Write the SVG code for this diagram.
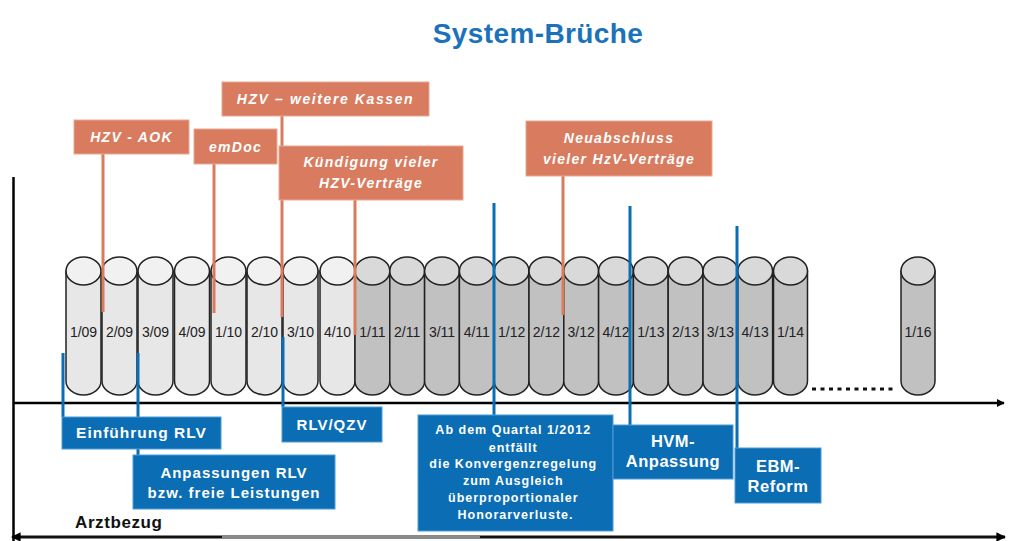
<svg xmlns="http://www.w3.org/2000/svg" width="1009" height="541" viewBox="0 0 1009 541">
<defs>
<marker id="ah" viewBox="0 0 10 10" refX="9" refY="5" markerWidth="3.2" markerHeight="3.2" orient="auto-start-reverse" markerUnits="strokeWidth"><path d="M0,0 L10,5 L0,10 Z" fill="#000"/></marker>
<style>
.cl path{fill:#e7e7e7;stroke:#222;stroke-width:1.5}
.cl ellipse{fill:#f1f1f1;stroke:#222;stroke-width:1.5}
.cg path{fill:#c1c1c1;stroke:#222;stroke-width:1.5}
.cg ellipse{fill:#d9d9d9;stroke:#222;stroke-width:1.5}
.cyl text{font-family:"Liberation Sans",Arial,sans-serif;font-size:14px;fill:#222;text-anchor:middle}
.ob{fill:#d97b5e;stroke:#eaa893;stroke-width:1}
.bb{fill:#0b6db4;stroke:#4f9bd6;stroke-width:1}
.ot{font-family:"Liberation Sans",Arial,sans-serif;font-size:14px;font-weight:bold;font-style:italic;fill:#fff;text-anchor:middle;letter-spacing:1.3px}
.bt{font-family:"Liberation Sans",Arial,sans-serif;font-weight:bold;fill:#fff;text-anchor:middle}
.ol{stroke:#d97b5e;stroke-width:3;fill:none}
.bl{stroke:#0b6db4;stroke-width:3;fill:none}
.ax{stroke:#000;stroke-width:2.5;fill:none}
</style>
</defs>
<rect width="1009" height="541" fill="#fff"/>
<text x="538" y="43" font-family="'Liberation Sans',Arial,sans-serif" font-size="28" font-weight="bold" fill="#1b72bb" text-anchor="middle" letter-spacing="0.4">System-Brüche</text>

<g id="axes">
<line class="ax" x1="13.5" y1="177" x2="13.5" y2="541"/>
<line class="ax" x1="13" y1="403" x2="1004" y2="403" marker-end="url(#ah)"/>
<line x1="12" y1="537" x2="1005" y2="537" stroke="#111" stroke-width="3" marker-start="url(#ah)" marker-end="url(#ah)"/>
<line x1="222" y1="537" x2="480" y2="537" stroke="#8a8a8a" stroke-width="3"/>
<line x1="812" y1="389" x2="893" y2="389" stroke="#111" stroke-width="3" stroke-dasharray="4 4.5"/>
</g>

<g id="cyl-1-09" class="cyl cl"><path d="M66 271V381A17.5 14 0 0 0 101 381V271Z"/><ellipse cx="83.5" cy="271" rx="17.5" ry="14"/><text x="83.5" y="337">1/09</text></g>
<g id="cyl-2-09" class="cyl cl"><path d="M102 271V381A17.5 14 0 0 0 137 381V271Z"/><ellipse cx="119.5" cy="271" rx="17.5" ry="14"/><text x="119.5" y="337">2/09</text></g>
<g id="cyl-3-09" class="cyl cl"><path d="M138 271V381A17.5 14 0 0 0 173 381V271Z"/><ellipse cx="155.5" cy="271" rx="17.5" ry="14"/><text x="155.5" y="337">3/09</text></g>
<g id="cyl-4-09" class="cyl cl"><path d="M174.5 271V381A17.5 14 0 0 0 209.5 381V271Z"/><ellipse cx="192" cy="271" rx="17.5" ry="14"/><text x="192" y="337">4/09</text></g>
<g id="cyl-1-10" class="cyl cl"><path d="M211 271V381A17.5 14 0 0 0 246 381V271Z"/><ellipse cx="228.5" cy="271" rx="17.5" ry="14"/><text x="228.5" y="337">1/10</text></g>
<g id="cyl-2-10" class="cyl cl"><path d="M247 271V381A17.5 14 0 0 0 282 381V271Z"/><ellipse cx="264.5" cy="271" rx="17.5" ry="14"/><text x="264.5" y="337">2/10</text></g>
<g id="cyl-3-10" class="cyl cl"><path d="M283 271V381A17.5 14 0 0 0 318 381V271Z"/><ellipse cx="300.5" cy="271" rx="17.5" ry="14"/><text x="300.5" y="337">3/10</text></g>
<g id="cyl-4-10" class="cyl cl"><path d="M320 271V381A17.5 14 0 0 0 355 381V271Z"/><ellipse cx="337.5" cy="271" rx="17.5" ry="14"/><text x="337.5" y="337">4/10</text></g>
<g id="cyl-1-11" class="cyl cg"><path d="M355 271V381A17.4 14 0 0 0 389.8 381V271Z"/><ellipse cx="372.4" cy="271" rx="17.4" ry="14"/><text x="372.4" y="337">1/11</text></g>
<g id="cyl-2-11" class="cyl cg"><path d="M389.8 271V381A17.4 14 0 0 0 424.6 381V271Z"/><ellipse cx="407.2" cy="271" rx="17.4" ry="14"/><text x="407.2" y="337">2/11</text></g>
<g id="cyl-3-11" class="cyl cg"><path d="M424.6 271V381A17.4 14 0 0 0 459.4 381V271Z"/><ellipse cx="442" cy="271" rx="17.4" ry="14"/><text x="442" y="337">3/11</text></g>
<g id="cyl-4-11" class="cyl cg"><path d="M459.4 271V381A17.4 14 0 0 0 494.2 381V271Z"/><ellipse cx="476.8" cy="271" rx="17.4" ry="14"/><text x="476.8" y="337">4/11</text></g>
<g id="cyl-1-12" class="cyl cg"><path d="M494.2 271V381A17.4 14 0 0 0 529 381V271Z"/><ellipse cx="511.6" cy="271" rx="17.4" ry="14"/><text x="511.6" y="337">1/12</text></g>
<g id="cyl-2-12" class="cyl cg"><path d="M529 271V381A17.4 14 0 0 0 563.8 381V271Z"/><ellipse cx="546.4" cy="271" rx="17.4" ry="14"/><text x="546.4" y="337">2/12</text></g>
<g id="cyl-3-12" class="cyl cg"><path d="M563.8 271V381A17.4 14 0 0 0 598.6 381V271Z"/><ellipse cx="581.2" cy="271" rx="17.4" ry="14"/><text x="581.2" y="337">3/12</text></g>
<g id="cyl-4-12" class="cyl cg"><path d="M598.6 271V381A17.4 14 0 0 0 633.4 381V271Z"/><ellipse cx="616" cy="271" rx="17.4" ry="14"/><text x="616" y="337">4/12</text></g>
<g id="cyl-1-13" class="cyl cg"><path d="M633.4 271V381A17.4 14 0 0 0 668.2 381V271Z"/><ellipse cx="650.8" cy="271" rx="17.4" ry="14"/><text x="650.8" y="337">1/13</text></g>
<g id="cyl-2-13" class="cyl cg"><path d="M668.2 271V381A17.4 14 0 0 0 703 381V271Z"/><ellipse cx="685.6" cy="271" rx="17.4" ry="14"/><text x="685.6" y="337">2/13</text></g>
<g id="cyl-3-13" class="cyl cg"><path d="M703 271V381A17.4 14 0 0 0 737.8 381V271Z"/><ellipse cx="720.4" cy="271" rx="17.4" ry="14"/><text x="720.4" y="337">3/13</text></g>
<g id="cyl-4-13" class="cyl cg"><path d="M737.8 271V381A17.4 14 0 0 0 772.6 381V271Z"/><ellipse cx="755.2" cy="271" rx="17.4" ry="14"/><text x="755.2" y="337">4/13</text></g>
<g id="cyl-1-14" class="cyl cg"><path d="M773.5 271V381A17 14 0 0 0 807.5 381V271Z"/><ellipse cx="790.5" cy="271" rx="17" ry="14"/><text x="790.5" y="337">1/14</text></g>
<g id="cyl-1-16" class="cyl cg"><path d="M901 271V381A17 14 0 0 0 935 381V271Z"/><ellipse cx="918" cy="271" rx="17" ry="14"/><text x="918" y="337">1/16</text></g>

<g id="connectors">
<line class="ol" x1="103" y1="154" x2="103" y2="312"/>
<line class="ol" x1="214" y1="164" x2="214" y2="313"/>
<line class="ol" x1="282" y1="116" x2="282" y2="317"/>
<line class="ol" x1="355" y1="200" x2="355" y2="335"/>
<line class="ol" x1="563" y1="176" x2="563" y2="315"/>
<line class="bl" x1="63" y1="353" x2="63" y2="417"/>
<line class="bl" x1="138" y1="353" x2="138" y2="455"/>
<line class="bl" x1="283" y1="337" x2="283" y2="407"/>
<line class="bl" x1="494" y1="203" x2="494" y2="415"/>
<line class="bl" x1="630" y1="206" x2="630" y2="425"/>
<line class="bl" x1="737" y1="226" x2="737" y2="448"/>
</g>

<g id="hzv-aok"><rect class="ob" x="74" y="120" width="115" height="34"/><text class="ot" x="131.5" y="142">HZV - AOK</text></g>
<g id="emdoc"><rect class="ob" x="194" y="129" width="83" height="35"/><text class="ot" x="235.5" y="152" font-size="15">emDoc</text></g>
<g id="hzv-weitere"><rect class="ob" x="222" y="82" width="207" height="34"/><text class="ot" x="325.5" y="104" style="letter-spacing:1.6px">HZV – weitere Kassen</text></g>
<g id="kuendigung"><rect class="ob" x="279" y="146" width="184" height="54"/><text class="ot" x="371" y="167">Kündigung vieler</text><text class="ot" x="371" y="188">HZV-Verträge</text></g>
<g id="neuabschluss"><rect class="ob" x="526" y="121" width="186" height="55"/><text class="ot" x="619" y="143">Neuabschluss</text><text class="ot" x="619" y="164">vieler HzV-Verträge</text></g>

<g id="einfuehrung-rlv"><rect class="bb" x="62" y="417" width="159" height="32"/><text class="bt" x="141.5" y="438" font-size="15.5" letter-spacing="1">Einführung RLV</text></g>
<g id="anpassungen-rlv"><rect class="bb" x="133" y="455" width="202" height="54"/><text class="bt" x="234" y="478" font-size="15" letter-spacing="1">Anpassungen RLV</text><text class="bt" x="234" y="498" font-size="15" letter-spacing="1">bzw. freie Leistungen</text></g>
<g id="rlv-qzv"><rect class="bb" x="282" y="407" width="100" height="35"/><text class="bt" x="332" y="430" font-size="15" letter-spacing="1">RLV/QZV</text></g>
<g id="konvergenz"><rect class="bb" x="418" y="415" width="195" height="116"/>
<text class="bt" font-size="12.5" letter-spacing="1">
<tspan x="515.5" y="434">Ab dem Quartal 1/2012</tspan>
<tspan x="515.5" y="452">entfällt</tspan>
<tspan x="515.5" y="468">die Konvergenzregelung</tspan>
<tspan x="515.5" y="485">zum Ausgleich</tspan>
<tspan x="515.5" y="502">überproportionaler</tspan>
<tspan x="515.5" y="519">Honorarverluste.</tspan>
</text></g>
<g id="hvm"><rect class="bb" x="613" y="425" width="120" height="54"/><text class="bt" x="673" y="447" font-size="16.5" letter-spacing="0.5">HVM-</text><text class="bt" x="673" y="467" font-size="16.5" letter-spacing="0.5">Anpassung</text></g>
<g id="ebm"><rect class="bb" x="735" y="448" width="86" height="55"/><text class="bt" x="778" y="472" font-size="16.5" letter-spacing="0.5">EBM-</text><text class="bt" x="778" y="492" font-size="16.5" letter-spacing="0.5">Reform</text></g>

<text x="75" y="528" font-family="'Liberation Sans',Arial,sans-serif" font-size="17" font-weight="bold" fill="#111" letter-spacing="0.6">Arztbezug</text>
</svg>
